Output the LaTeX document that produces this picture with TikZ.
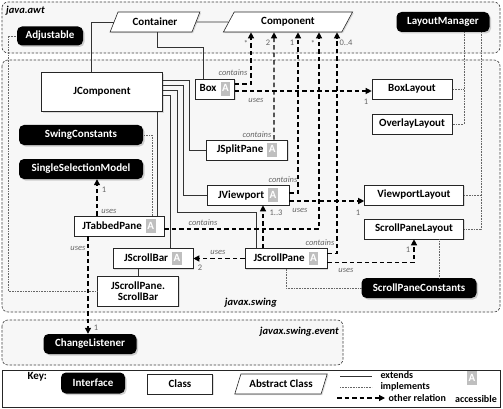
\documentclass[tikz,border=0pt]{standalone}
\usepackage{fontspec}
\setmainfont{Carlito}
\usetikzlibrary{shapes.geometric,arrows.meta,shadows}

\newcommand\accmark{{\setlength{\fboxsep}{1.6pt}\colorbox{black!25}{\color{white}\rule[-2pt]{0pt}{10pt}A}}}
\newcommand\accbadge{\hspace{4pt}\accmark}

\tikzset{
    iface/.style={fill=black, text=white, rounded corners=5pt, minimum height=20pt, inner sep=2pt,
        drop shadow={opacity=0.35, shadow xshift=1.5pt, shadow yshift=-1.5pt}},
    cls/.style={draw=black!85, fill=white, line width=0.6pt, minimum height=20pt, inner sep=2pt,
        drop shadow={opacity=0.25, shadow xshift=1.2pt, shadow yshift=-1.2pt}},
    abscls/.style={trapezium, trapezium left angle=63, trapezium right angle=117, trapezium stretches=true,
        draw=black!85, fill=white, line width=0.6pt, minimum height=20pt, inner sep=1pt,
        drop shadow={opacity=0.25, shadow xshift=1.2pt, shadow yshift=-1.2pt}},
    pkg/.style={draw=black!75, fill=black!3, line width=0.6pt, dash pattern=on 2.5pt off 1.5pt, rounded corners=6pt},
    ext/.style={draw=black!80, line width=0.6pt},
    impl/.style={draw=black!60, line width=0.6pt, dash pattern=on 0.6pt off 1pt},
    rel/.style={draw=black, line width=1.2pt, dash pattern=on 4.5pt off 3pt, -{Triangle[length=6pt,width=6pt]}},
    lbl/.style={font=\fontsize{8.5}{9}\selectfont\itshape, text=black!60, inner sep=0.5pt},
    mult/.style={font=\fontsize{8.5}{9}\selectfont, text=black!60, inner sep=0.5pt},
    pkgname/.style={font=\fontsize{10.5}{12}\selectfont\bfseries\itshape, inner sep=0pt}
}

\begin{document}
\begin{tikzpicture}[x=1pt, y=-1pt, font=\fontsize{11}{12}\selectfont\bfseries]

    \useasboundingbox (0,0) rectangle (503,409);
    \fill[white] (0,0) rectangle (503,409);
    \draw[pkg] (2,2) rectangle (500,53);
    \draw[pkg] (2,60) rectangle (500,312);
    \draw[pkg] (2,320) rectangle (343,365);
    \draw[draw=black!85, fill=white, line width=0.7pt] (2,370) rectangle (500,407);
    \node[pkgname, anchor=west] (awtName) at (6,11) {java.awt};
    \node[pkgname, anchor=east] (swingName) at (277,303) {javax.swing};
    \node[pkgname, anchor=east] (eventName) at (339,332) {javax.swing.event};

    \node[abscls, minimum width=90pt] (Container) at (155,22) {Container};
    \node[abscls, minimum width=130pt] (Component) at (288,22) {Component};
    \node[iface, minimum width=93pt] (LayoutManager) at (443,22) {LayoutManager};
    \node[iface, minimum width=66pt, minimum height=19pt] (Adjustable) at (50,36) {Adjustable};

    \node[cls, minimum width=121pt, minimum height=39pt] (JComponent) at (102,92) {JComponent};
    \node[cls, minimum width=39pt] (Box) at (215,89) {Box\accbadge};
    \node[iface, minimum width=124pt] (SwingConstants) at (81,135) {SwingConstants};
    \node[iface, minimum width=124pt] (SingleSelectionModel) at (81,169) {SingleSelectionModel};
    \node[cls, minimum width=81pt] (JSplitPane) at (247,150) {JSplitPane\accbadge};
    \node[cls, minimum width=82pt] (JViewport) at (248,195) {JViewport\accbadge};
    \node[cls, minimum width=90pt] (JTabbedPane) at (119,226) {JTabbedPane\accbadge};
    \node[cls, minimum width=80pt] (JScrollBar) at (153,258.5) {JScrollBar\accbadge};
    \node[cls, minimum width=82pt] (JScrollPane) at (286,258.5) {JScrollPane\accbadge};
    \node[cls, minimum width=81pt, minimum height=30pt, align=center,
        font=\fontsize{11}{11.5}\selectfont\bfseries] (SPScrollBar) at (138,291) {JScrollPane.\\ScrollBar};

    \node[cls, minimum width=80pt] (BoxLayout) at (412,89) {BoxLayout};
    \node[cls, minimum width=80pt] (OverlayLayout) at (412,124) {OverlayLayout};
    \node[cls, minimum width=99pt] (ViewportLayout) at (414,195) {ViewportLayout};
    \node[cls, minimum width=99pt] (ScrollPaneLayout) at (414,229) {ScrollPaneLayout};
    \node[iface, minimum width=115pt] (ScrollPaneConstants) at (419,288) {ScrollPaneConstants};
    \node[iface, minimum width=93pt] (ChangeListener) at (90,344) {ChangeListener};

    \draw[ext] (Container.east) -- (Component.west);
    \draw[ext] ([xshift=-11pt]JComponent.north) |- (Container.west);
    \draw[ext] ([xshift=-12pt]Box.north) |- ([xshift=2pt,yshift=-15pt]Container.south) -- ([xshift=2pt]Container.south);
    \draw[ext] ([yshift=12pt]JComponent.east) -| ([xshift=-17pt]JSplitPane.west) -- (JSplitPane.west);
    \draw[ext] ([yshift=7pt]JComponent.east) -| ([xshift=-23pt]JViewport.west) -- (JViewport.west);
    \draw[ext] ([yshift=2pt]JComponent.east) -| ++(14,122) -| ([xshift=-30pt]JScrollPane.north);
    \draw[ext] ([yshift=-3pt]JComponent.east) -| ([xshift=17pt]JScrollBar.north);
    \draw[ext] ([xshift=55pt]JComponent.south) -- ([xshift=38pt]JTabbedPane.north);
    \draw[ext] (JScrollBar.south -| SPScrollBar.north) -- (SPScrollBar.north);

    \draw[impl] ([xshift=21pt]LayoutManager.south) |- (BoxLayout.east);
    \draw[impl] ([xshift=21pt]LayoutManager.south) |- (OverlayLayout.east);
    \draw[impl] ([xshift=38pt]LayoutManager.south) |- (ViewportLayout.east);
    \draw[impl] ([xshift=38pt]LayoutManager.south) |- (ScrollPaneLayout.east);
    \draw[impl] ([xshift=25pt]ScrollPaneLayout.south) -- ([xshift=20pt]ScrollPaneConstants.north);
    \draw[impl] (JScrollPane.south) |- (ScrollPaneConstants.west);
    \draw[impl] ([xshift=33pt]JTabbedPane.north) |- (SwingConstants.east);
    \draw[impl] (SPScrollBar.west) -| ([xshift=-9pt]Adjustable.west) -- (Adjustable.west);

    \draw[rel] ([yshift=5pt]Box.east) -| ([xshift=-37pt]Component.south);
    \draw[rel] ([yshift=-2pt]Box.east) -- ([yshift=-2pt]BoxLayout.west);
    \draw[rel] ([xshift=27pt]JSplitPane.north) -- ([xshift=-14pt]Component.south);
    \draw[rel] ([yshift=2pt]JViewport.east) -| ([xshift=10pt]Component.south);
    \draw[rel] ([yshift=-6pt]JViewport.east) -- ([yshift=-6pt]ViewportLayout.west);
    \draw[rel] ([yshift=-3pt]JTabbedPane.east) -| ([xshift=31pt]Component.south);
    \draw[rel] ([yshift=5pt]JScrollPane.east) -| ([xshift=49pt]Component.south);
    \draw[rel] ([xshift=-23pt]JScrollPane.north) -- ([xshift=15pt]JViewport.south);
    \draw[rel] (JScrollPane.west) -- (JScrollBar.east);
    \draw[rel] ([yshift=-4pt]JScrollPane.east) -| (ScrollPaneLayout.south);
    \draw[rel] ([xshift=-22pt]JTabbedPane.north) -- ([xshift=16pt]SingleSelectionModel.south);
    \draw[rel] ([xshift=-31pt]JTabbedPane.south) -- ([xshift=-2pt]ChangeListener.north);

    \node[lbl] (cBox) at (233,73) {contains};
    \node[mult] (mBox) at (246,43) {*};
    \node[lbl] (uBox) at (256,100) {uses};
    \node[mult] (mBoxLayout) at (366,102) {1};
    \node[lbl] (cSplit) at (257,135) {contains};
    \node[mult] (mSplit) at (268,43) {2};
    \node[lbl] (cView) at (283,180) {contains};
    \node[mult] (mView) at (292,43) {1};
    \node[lbl] (uView) at (300,210) {uses};
    \node[mult] (mViewLayout) at (358,213) {1};
    \node[lbl] (cTab) at (203,223) {contains};
    \node[mult] (mTab) at (313,43) {*};
    \node[lbl] (cScroll) at (320,243) {contains};
    \node[mult] (mScroll) at (346,43) {0..4};
    \node[mult] (mViewport) at (276,213) {1..3};
    \node[lbl] (uBar) at (218,252) {uses};
    \node[mult] (mBar) at (200,268) {2};
    \node[lbl] (uLayout) at (346,270) {uses};
    \node[mult] (mLayout) at (408,250) {1};
    \node[lbl] (uModel) at (109,211) {uses};
    \node[mult] (mModel) at (104,190) {1};
    \node[lbl] (uListener) at (78,248) {uses};
    \node[mult] (mListener) at (96,328) {1};

    \node[anchor=west] (keyTitle) at (24,377) {Key:};
    \node[iface, minimum width=64pt, minimum height=21pt] (keyIface) at (93,383) {Interface};
    \node[cls, minimum width=65pt] (keyClass) at (180,384) {Class};
    \node[abscls, minimum width=93pt] (keyAbstract) at (281,384) {Abstract Class};
    \coordinate (ext1) at (340,376);
    \coordinate (ext2) at (372,376);
    \coordinate (impl1) at (340,387);
    \coordinate (impl2) at (372,387);
    \coordinate (rel1) at (337,398);
    \coordinate (rel2) at (385,398);
    \draw[ext] (ext1) -- (ext2);
    \draw[impl] (impl1) -- (impl2);
    \draw[rel] (rel1) -- (rel2);
    \node[anchor=west, font=\fontsize{10}{11}\selectfont\bfseries] (keyExt) at (377,375) {extends};
    \node[anchor=west, font=\fontsize{10}{11}\selectfont\bfseries] (keyImpl) at (377,387) {implements};
    \node[anchor=west, font=\fontsize{10}{11}\selectfont\bfseries] (keyRel) at (385,398) {other relation};
    \node[inner sep=0pt] (keyBadge) at (472,378) {\accmark};
    \node[font=\fontsize{10}{11}\selectfont\bfseries] (keyAcc) at (476,399) {accessible};

\end{tikzpicture}
\end{document}
